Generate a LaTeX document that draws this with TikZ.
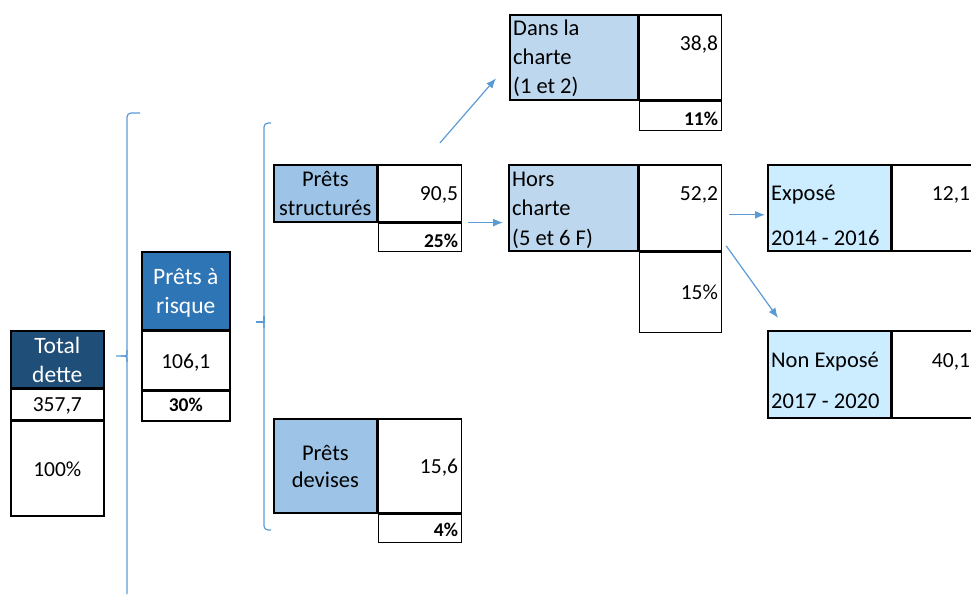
\documentclass[tikz,border=0pt]{standalone}
\usepackage{fontspec}
\setmainfont{Carlito}
\usepackage{tikz}
\usetikzlibrary{arrows.meta}
\definecolor{marine}{HTML}{1F4E79}
\definecolor{bleu}{HTML}{2E75B6}
\definecolor{bleuclair}{HTML}{9DC3E6}
\definecolor{bleupale}{HTML}{BDD7EE}
\definecolor{ciel}{HTML}{CCECFF}
\definecolor{trait}{HTML}{5B9BD5}
\begin{document}
\begin{tikzpicture}[x=1pt,y=-1pt,
    cell/.style={draw=black,line width=1.6pt,inner sep=0pt,anchor=north west},
    txt/.style={inner sep=0pt,font=\fontsize{21.5}{26}\selectfont},
    lbl/.style={inner sep=0pt,font=\fontsize{22.5}{27}\selectfont},
    tete/.style={inner sep=0pt,text=white,font=\fontsize{23.5}{28}\selectfont},
    pct/.style={inner sep=0pt,font=\fontsize{19.5}{24}\selectfont\bfseries},
    brace/.style={draw=trait,line width=1.2pt,rounded corners=4pt},
    fleche/.style={draw=trait,line width=1.2pt,-{Latex[length=10pt,width=8pt]}}]
    \useasboundingbox (0,0) rectangle (971,594);
    %accolades
    \draw[brace] (140,113) -- (127,113) -- (127,594);
    \draw[brace] (127,350) .. controls (127,356) .. (121,356) -- (116,356);
    \draw[brace] (127,362) .. controls (127,356) .. (121,356);
    \draw[brace] (271,123) -- (264,123) -- (264,530) -- (271,530);
    \draw[brace] (264,316) .. controls (264,322) .. (260,322) -- (257,322);
    \draw[brace] (264,328) .. controls (264,322) .. (260,322);
    %total dette
    \node[cell,fill=marine,minimum width=93pt,minimum height=57pt] (td) at (10,330) {};
    \node[cell,minimum width=93pt,minimum height=30pt] (tdv) at (td.south west) {};
    \node[cell,minimum width=93pt,minimum height=95pt] (tdp) at (tdv.south west) {};
    \node[tete,anchor=base] (td1) at ([shift={(0,23)}]td.north) {Total};
    \node[tete,anchor=base] (td2) at ([shift={(0,52)}]td.north) {dette};
    \node[txt,anchor=base] (tdvt) at ([shift={(0,23)}]tdv.north) {357,7};
    \node[txt,anchor=base] (tdpt) at ([shift={(0,56)}]tdp.north) {100\%};
    %prets a risque
    \node[cell,fill=bleu,minimum width=88pt,minimum height=78pt] (pr) at (141,251) {};
    \node[cell,minimum width=88pt,minimum height=58pt] (prv) at (pr.south west) {};
    \node[cell,minimum width=88pt,minimum height=30pt] (prp) at (prv.south west) {};
    \node[tete,anchor=base] (pr1) at ([shift={(0,33)}]pr.north) {Prêts à};
    \node[tete,anchor=base] (pr2) at ([shift={(0,62)}]pr.north) {risque};
    \node[txt,anchor=base] (prvt) at ([shift={(0,38)}]prv.north) {106,1};
    \node[pct,anchor=base] (prpt) at ([shift={(0,21)}]prp.north) {30\%};
    %prets structures
    \node[cell,fill=bleuclair,minimum width=103pt,minimum height=57pt] (ps) at (273,164) {};
    \node[cell,minimum width=83pt,minimum height=57pt] (psv) at (ps.north east) {};
    \node[cell,minimum width=83pt,minimum height=28pt] (psp) at (psv.south west) {};
    \node[lbl,anchor=base] (ps1) at ([shift={(0,22)}]ps.north) {Prêts};
    \node[lbl,anchor=base] (ps2) at ([shift={(0,51)}]ps.north) {structurés};
    \node[txt,anchor=base east] (psvt) at ([shift={(-4,36)}]psv.north east) {90,5};
    \node[pct,anchor=base east] (pspt) at ([shift={(-4,25)}]psp.north east) {25\%};
    %prets devises
    \node[cell,fill=bleuclair,minimum width=103pt,minimum height=94pt] (pd) at (273,418) {};
    \node[cell,minimum width=83pt,minimum height=94pt] (pdv) at (pd.north east) {};
    \node[cell,minimum width=83pt,minimum height=28pt] (pdp) at (pdv.south west) {};
    \node[lbl,anchor=base] (pd1) at ([shift={(0,42)}]pd.north) {Prêts};
    \node[lbl,anchor=base] (pd2) at ([shift={(0,69)}]pd.north) {devises};
    \node[txt,anchor=base east] (pdvt) at ([shift={(-4,55)}]pdv.north east) {15,6};
    \node[pct,anchor=base east] (pdpt) at ([shift={(-4,23)}]pdp.north east) {4\%};
    %dans la charte
    \node[cell,fill=bleupale,minimum width=128pt,minimum height=85pt] (dc) at (509,14) {};
    \node[cell,minimum width=82pt,minimum height=85pt] (dcv) at (dc.north east) {};
    \node[cell,minimum width=82pt,minimum height=29pt] (dcp) at (dcv.south west) {};
    \node[lbl,anchor=base west] (dc1) at ([shift={(4,22)}]dc.north west) {Dans la};
    \node[lbl,anchor=base west] (dc2) at ([shift={(4,50)}]dc.north west) {charte};
    \node[lbl,anchor=base west] (dc3) at ([shift={(4,79)}]dc.north west) {(1 et 2)};
    \node[txt,anchor=base east] (dcvt) at ([shift={(-4,37)}]dcv.north east) {38,8};
    \node[pct,anchor=base east] (dcpt) at ([shift={(-4,25)}]dcp.north east) {11\%};
    %hors charte
    \node[cell,fill=bleupale,minimum width=129pt,minimum height=86pt] (hc) at (508,164) {};
    \node[cell,minimum width=82pt,minimum height=86pt] (hcv) at (hc.north east) {};
    \node[cell,minimum width=82pt,minimum height=80pt] (hcp) at (hcv.south west) {};
    \node[lbl,anchor=base west] (hc1) at ([shift={(4,22)}]hc.north west) {Hors};
    \node[lbl,anchor=base west] (hc2) at ([shift={(4,51)}]hc.north west) {charte};
    \node[lbl,anchor=base west] (hc3) at ([shift={(4,81)}]hc.north west) {(5 et 6 F)};
    \node[txt,anchor=base east] (hcvt) at ([shift={(-4,36)}]hcv.north east) {52,2};
    \node[txt,anchor=base east] (hcpt) at ([shift={(-4,48)}]hcp.north east) {15\%};
    %expose
    \node[cell,fill=ciel,minimum width=123pt,minimum height=86pt] (ex) at (767,164) {};
    \node[cell,minimum width=80pt,minimum height=86pt] (exv) at (ex.north east) {};
    \node[lbl,anchor=base west] (ex1) at ([shift={(4,36)}]ex.north west) {Exposé};
    \node[lbl,anchor=base west] (ex2) at ([shift={(4,81)}]ex.north west) {2014 - 2016};
    \node[txt,anchor=base east] (exvt) at ([shift={(-3,36)}]exv.north east) {12,1};
    %non expose
    \node[cell,fill=ciel,minimum width=123pt,minimum height=87pt] (ne) at (767,330) {};
    \node[cell,minimum width=80pt,minimum height=87pt] (nev) at (ne.north east) {};
    \node[lbl,anchor=base west] (ne1) at ([shift={(4,37)}]ne.north west) {Non Exposé};
    \node[lbl,anchor=base west] (ne2) at ([shift={(4,78)}]ne.north west) {2017 - 2020};
    \node[txt,anchor=base east] (nevt) at ([shift={(-3,37)}]nev.north east) {40,1};
    %fleches
    \draw[fleche] ([shift={(20,-21)}]psv.north) -- ([shift={(-13,21)}]dc.west);
    \draw[fleche] ([shift={(6,0)}]psv.south east) -- ([shift={(-5,0)}]hc.west |- psv.south east);
    \draw[fleche] ([shift={(7,7)}]hcv.east) -- ([shift={(-2,7)}]ex.west);
    \draw[fleche] ([shift={(4,38)}]hcv.east) -- ([shift={(11,-12)}]ne.north west);
\end{tikzpicture}
\end{document}
